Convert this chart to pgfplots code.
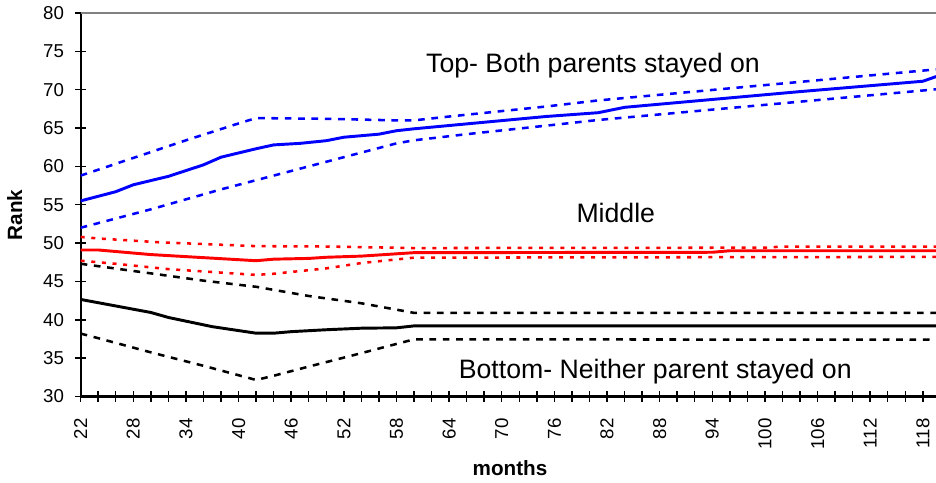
\documentclass[border=0pt]{standalone}
\usepackage{fontspec}
\setmainfont{Liberation Sans}
\usepackage{pgfplots}
\pgfplotsset{compat=1.18}
\usetikzlibrary{calc}

\pgfplotstableread{
m v
22 55.5
26 56.7
28 57.6
32 58.7
36 60.2
38 61.2
42 62.3
44 62.8
47 63.0
50 63.35
52 63.8
56 64.2
58 64.65
60 64.9
75 66.5
81 67.0
84 67.7
104 69.75
118 71.1
120 71.9
}\topmid
\pgfplotstableread{
m v
22 58.8
34 63.4
40 65.6
42 66.3
50 66.2
58 66.0
60 66.0
64 66.5
75 67.8
81 68.6
120 72.7
}\tophi
\pgfplotstableread{
m v
22 52.0
30 54.4
38 57.0
42 58.2
48 60.0
50 60.6
58 63.0
60 63.4
66 64.2
75 65.3
81 66.05
120 70.1
}\toplo
\pgfplotstableread{
m v
22 49.1
24 49.1
30 48.5
36 48.1
42 47.7
44 47.9
48 48.0
50 48.15
54 48.3
60 48.75
94 48.8
96 49.0
120 49.0
}\midmid
\pgfplotstableread{
m v
22 50.8
24 50.6
31 50.1
42 49.6
50 49.55
60 49.35
100 49.4
102 49.55
120 49.55
}\midhi
\pgfplotstableread{
m v
22 47.7
26 47.3
32 46.6
42 45.85
44 46.0
50 46.7
54 47.4
60 48.1
120 48.2
}\midlo
\pgfplotstableread{
m v
22 42.65
26 41.8
30 40.95
32 40.3
37 39.1
42 38.25
44 38.25
46 38.45
50 38.7
54 38.9
58 38.95
60 39.2
120 39.2
}\botmid
\pgfplotstableread{
m v
22 47.3
30 46.05
36 45.1
42 44.3
48 43.1
54 42.15
60 40.9
120 40.9
}\bothi
\pgfplotstableread{
m v
22 38.2
24 37.6
30 35.75
36 34.0
42 32.15
44 32.7
48 33.9
54 35.65
60 37.45
120 37.4
}\botlo

\begin{document}
\begin{tikzpicture}
\begin{axis}[
    name=ax,
    scale only axis,
    width=641.5pt, height=287.6pt,
    xmin=22, xmax=119.5,
    ymin=30, ymax=80,
    axis x line*=bottom,
    axis y line*=left,
    axis line style={line width=1.6pt, black},
    xtick={22,28,...,118},
    minor xtick={24,26,...,118},
    ytick={30,35,...,80},
    tick align=center,
    major tick length=8pt,
    minor tick length=8pt,
    every tick/.style={black, line width=1.1pt},
    tick label style={font=\fontsize{14}{16}\selectfont},
    /pgf/number format/assume math mode=true,
    xticklabel style={yshift=-9pt, rotate=90, anchor=east},
    yticklabel style={xshift=-5pt},
    xlabel={\textbf{months}},
    ylabel={\textbf{Rank}},
    xlabel style={at={(axis description cs:0.502,-0.186)}, anchor=center, font=\fontsize{15.5}{17}\selectfont},
    ylabel style={at={(axis description cs:-0.077,0.473)}, anchor=center, font=\fontsize{15.5}{17}\selectfont},
    clip=true,
]
\addplot[blue, line width=2.2pt] table {\topmid};
\addplot[blue, line width=1.9pt, dash pattern=on 5pt off 5pt] table {\tophi};
\addplot[blue, line width=1.9pt, dash pattern=on 5pt off 5pt] table {\toplo};
\addplot[red, line width=2.2pt] table {\midmid};
\addplot[red, line width=1.9pt, dash pattern=on 3pt off 5pt] table {\midhi};
\addplot[red, line width=1.9pt, dash pattern=on 3pt off 5pt] table {\midlo};
\addplot[black, line width=2.2pt] table {\botmid};
\addplot[black, line width=1.9pt, dash pattern=on 5pt off 5pt] table {\bothi};
\addplot[black, line width=1.9pt, dash pattern=on 5pt off 5pt] table {\botlo};
\node[font=\fontsize{20}{22}\selectfont] at (axis cs:80.4,73.2) {Top- Both parents stayed on};
\node[font=\fontsize{20}{22}\selectfont] at (axis cs:83.0,53.9) {Middle};
\node[font=\fontsize{20}{22}\selectfont] at (axis cs:87.5,33.2) {Bottom- Neither parent stayed on};
\end{axis}
\draw[gray, line width=1.6pt] (ax.north west) -- (ax.north east);
\pgfresetboundingbox
\path[use as bounding box] ($(ax.south west)+(-60.5pt,-64.9pt)$) rectangle ($(ax.north east)+(0,9.75pt)$);
\end{tikzpicture}
\end{document}
